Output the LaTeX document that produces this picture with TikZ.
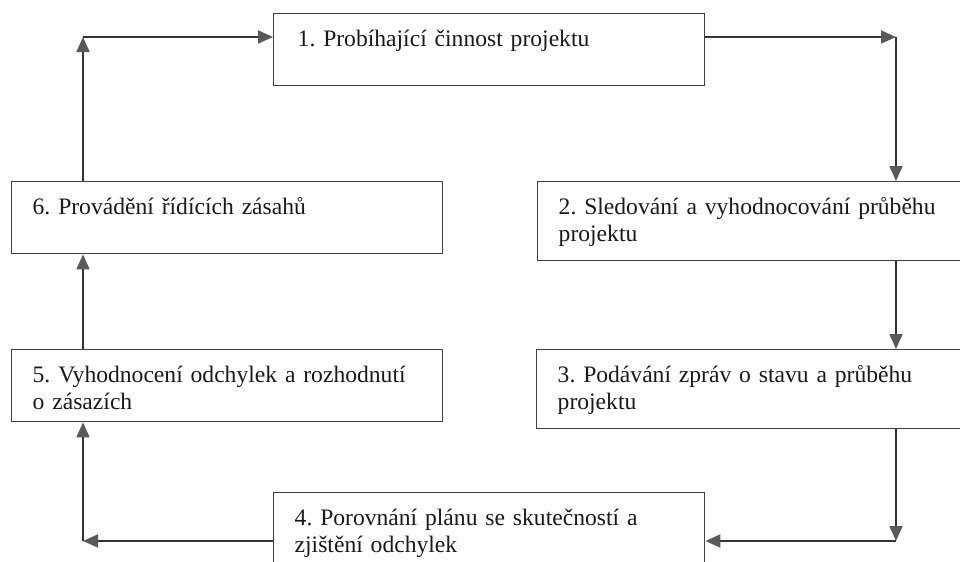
\documentclass[tikz,border=0pt]{standalone}
\usepackage{fontspec}
\setmainfont{Liberation Serif}
\usetikzlibrary{arrows.meta}

\begin{document}
\begin{tikzpicture}[x=0.5pt,y=-0.5pt,>={Triangle[length=7.5pt,width=6.5pt,color=black!65]},
  flow/.style={->,draw=black!80,line width=0.9pt},
  main box/.style={rectangle,draw=black!75,line width=0.7pt,anchor=north west,
    inner xsep=10.5pt,inner ysep=0pt,text width=194.5pt,align=left,
    text height=16.5pt,text depth=19.5pt,text=black!90,
    font=\fontsize{11.8pt}{13.5pt}\selectfont\frenchspacing},
  tall box/.style={main box,text depth=23pt}]

  \useasboundingbox (0,0) rectangle (960,562);
  \clip (0,0) rectangle (960,562);

  % steps of the control cycle
  \node[main box,inner xsep=12pt,text width=191.5pt] (1) at (273,13) {1. Probíhající činnost projektu};
  \node[tall box] (2) at (537,181) {2. Sledování a vyhodnocování průběhu\\projektu};
  \node[tall box] (3) at (536,349) {3. Podávání zpráv o stavu a průběhu\\projektu};
  \node[main box] (4) at (273,492) {4. Porovnání plánu se skutečností a\\zjištění odchylek};
  \node[main box] (5) at (11,349) {5. Vyhodnocení odchylek a rozhodnutí\\o zásazích};
  \node[main box] (6) at (11,181) {6. Provádění řídících zásahů};

  % corners of the loop
  \coordinate (c61) at (83,37);
  \coordinate (c12) at (896,37);
  \coordinate (c34) at (896,541);
  \coordinate (c45) at (83,541);

  \draw[flow] (c61 |- 6.north) -- (c61);
  \draw[flow] (c61) -- (c61 -| 1.west);
  \draw[flow] (c12 -| 1.east) -- (c12);
  \draw[flow] (c12) -- (c12 |- 2.north);
  \draw[flow] (c12 |- 2.south) -- (c12 |- 3.north);
  \draw[flow] (c34 |- 3.south) -- (c34);
  \draw[flow] (c34) -- (c34 -| 4.east);
  \draw[flow] (c45 -| 4.west) -- (c45);
  \draw[flow] (c45) -- (c45 |- 5.south);
  \draw[flow] (c45 |- 5.north) -- (c45 |- 6.south);

\end{tikzpicture}
\end{document}
